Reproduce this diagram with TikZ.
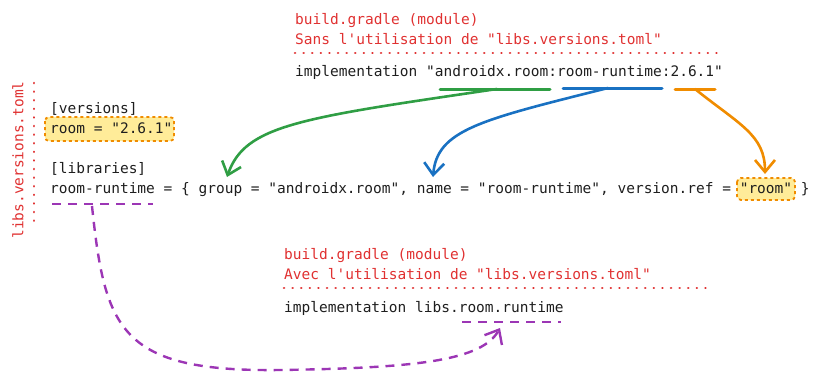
\documentclass[tikz,border=0pt]{standalone}
\usepackage{fontspec}
\setmonofont{DejaVu Sans Mono}
\usetikzlibrary{arrows.meta}
\definecolor{exred}{HTML}{E03131}
\definecolor{exgreen}{HTML}{2F9E44}
\definecolor{exblue}{HTML}{1971C2}
\definecolor{exorange}{HTML}{F08C00}
\definecolor{expurple}{HTML}{9C36B5}
\definecolor{exyellow}{HTML}{FFEC99}
\definecolor{exink}{HTML}{1E1E1E}
\tikzset{
  txt/.style = {anchor=base west, inner sep=0pt, text=exink,
    font=\ttfamily\fontsize{14.5}{17}\selectfont},
  note/.style = {txt, text=exred},
  sepline/.style = {exred, line width=2.6pt, line cap=round, dash pattern=on 0.1pt off 8.5pt},
  hilite/.style = {fill=exyellow, draw=exorange, line width=1.8pt,
    dash pattern=on 3pt off 3pt, rounded corners=4pt},
  uline/.style = {line width=3pt, line cap=round},
  link/.style = {line width=2.6pt, line cap=round,
    -{Straight Barb[length=12pt,width=20pt]}},
  dashlink/.style = {expurple, line width=2.4pt, dash pattern=on 9pt off 7pt}
}
\begin{document}
\begin{tikzpicture}[x=1pt, y=-1pt]
  \useasboundingbox (0,0) rectangle (825,380);
  % highlights
  \draw[hilite] (45,117) rectangle (174,141);
  \draw[hilite] (737,178) rectangle (795,200);
  % build.gradle sans catalogue
  \node[note] (titleA) at (295,24) {build.gradle (module)};
  \node[note] (subA) at (295,44.5) {Sans l'utilisation de "libs.versions.toml"};
  \draw[sepline] (295,53) -- (720,53);
  \node[txt] (implA) at (295,76) {implementation "androidx.room:room-runtime:2.6.1"};
  % libs.versions.toml
  \node[note, anchor=center, rotate=90] (tomlName) at (18,160) {libs.versions.toml};
  \draw[sepline] (34,83) -- (34,228);
  \node[txt] (versions) at (50,113) {[versions]};
  \node[txt] (roomVer) at (50,133) {room = "2.6.1"};
  \node[txt] (libraries) at (50,173) {[libraries]};
  \node[txt] (roomLib) at (50,193) {room-runtime = \{ group = "androidx.room", name = "room-runtime", version.ref = "room" \}};
  % build.gradle avec catalogue
  \node[note] (titleB) at (284,259) {build.gradle (module)};
  \node[note] (subB) at (284,279) {Avec l'utilisation de "libs.versions.toml"};
  \draw[sepline] (284,288) -- (707,288);
  \node[txt] (implB) at (284,312) {implementation libs.room.runtime};
  % underlines
  \draw[uline, exgreen] (440,89) -- (550,89);
  \draw[uline, exblue] (563,88) -- (662,88);
  \draw[uline, exorange] (675,89) -- (715,89);
  \draw[dashlink] (52,204) -- (153,204);
  \draw[dashlink] (462,322) -- (561,322);
  % links
  \coordinate (gFrom) at (497,89);
  \coordinate (gTo) at (227,177);
  \coordinate (bFrom) at (608,88);
  \coordinate (bTo) at (433,177);
  \coordinate (oFrom) at (695,89);
  \coordinate (oTo) at (765,174);
  \coordinate (pFrom) at (92,206);
  \coordinate (pTo) at (500,328);
  \draw[link, exgreen] (gFrom) .. controls (300,118) and (245,125) .. (gTo);
  \draw[link, exblue] (bFrom) .. controls (480,120) and (437,130) .. (bTo);
  \draw[link, exorange] (oFrom) .. controls (740,125) and (765,135) .. (oTo);
  \draw[dashlink, -{Straight Barb[length=12pt,width=20pt]}] (pFrom)
    .. controls (105,330) and (120,372) .. (280,370)
    .. controls (420,368) and (482,360) .. (pTo);
\end{tikzpicture}
\end{document}
